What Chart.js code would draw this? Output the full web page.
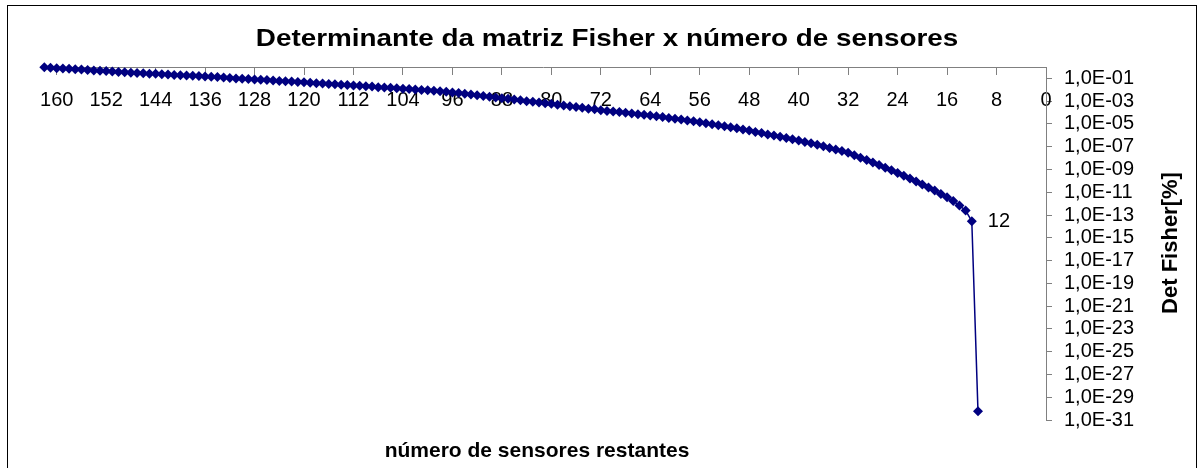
<!DOCTYPE html>
<html lang="pt">
<head>
<meta charset="utf-8">
<title>Determinante da matriz Fisher x número de sensores</title>
<script src="https://cdn.jsdelivr.net/npm/chart.js@4"></script>
<style>
  html, body { margin: 0; padding: 0; background: #fff; }
  canvas { display: block; }
</style>
</head>
<body>
<canvas id="fisherChart" width="1204" height="468"></canvas>
<script>
// Determinante da matriz Fisher para cada número de sensores restantes (162 -> 11)
const detFisher = [
  9.3e-1, 8.7e-1, 7.9e-1, 7.4e-1, 6.9e-1, 6.3e-1, 5.9e-1, 5.5e-1, 5.0e-1, 4.7e-1, 4.4e-1, 4.0e-1, 3.7e-1, 3.5e-1, 3.2e-1,
  3.0e-1, 2.8e-1, 2.6e-1, 2.5e-1, 2.3e-1, 2.2e-1, 2.0e-1, 1.9e-1, 1.8e-1, 1.7e-1, 1.6e-1,
  1.5e-1, 1.4e-1, 1.3e-1, 1.2e-1, 1.1e-1, 1.0e-1, 9.5e-2, 8.7e-2, 8.1e-2, 7.6e-2, 7.1e-2, 6.6e-2, 6.0e-2, 5.6e-2, 5.2e-2, 4.9e-2,
  4.5e-2, 4.2e-2, 3.8e-2, 3.5e-2, 3.2e-2, 3.0e-2,
  2.8e-2, 2.6e-2, 2.4e-2, 2.2e-2, 2.0e-2, 1.9e-2, 1.7e-2, 1.6e-2, 1.5e-2, 1.35e-2,
  1.2e-2, 1.15e-2, 1.05e-2, 9.5e-3, 8.9e-3, 8.1e-3, 7.4e-3, 6.8e-3,
  5.9e-3, 5.1e-3, 4.4e-3, 3.8e-3, 3.3e-3, 2.8e-3, 2.5e-3, 2.1e-3, 1.8e-3, 1.6e-3, 1.4e-3, 1.2e-3, 1.0e-3, 8.9e-4, 7.8e-4, 6.6e-4,
  5.8e-4, 4.9e-4, 4.2e-4, 3.5e-4, 3.0e-4, 2.6e-4, 2.2e-4, 1.9e-4,
  1.6e-4, 1.4e-4, 1.26e-4, 1.1e-4, 9.5e-5, 8.3e-5, 7.2e-5, 6.3e-5, 5.5e-5,
  4.7e-5, 4.0e-5, 3.3e-5, 2.8e-5, 2.4e-5, 2.0e-5, 1.7e-5, 1.4e-5,
  1.15e-5, 9.3e-6, 7.6e-6, 6.2e-6, 5.0e-6, 4.1e-6, 3.3e-6, 2.6e-6,
  2.0e-6, 1.6e-6, 1.2e-6, 9.5e-7, 7.4e-7, 5.8e-7, 4.5e-7, 3.5e-7,
  2.6e-7, 2.0e-7, 1.5e-7, 1.1e-7, 7.9e-8, 5.8e-8, 4.1e-8, 2.9e-8,
  1.8e-8, 1.1e-8, 6.8e-9, 4.1e-9, 2.5e-9,
  1.4e-9, 8.5e-10, 4.9e-10, 2.8e-10, 1.6e-10, 8.7e-11,
  4.8e-11, 2.6e-11, 1.4e-11, 7.2e-12, 3.6e-12, 1.7e-12, 6.9e-13, 2.5e-13, 2.8e-14, 5.8e-31
];
// número de sensores de cada ponto: 162, 161, ..., 11
const sensores = detFisher.map((_, i) => 162 - i);

const xTicks = [160, 152, 144, 136, 128, 120, 112, 104, 96, 88, 80, 72, 64, 56, 48, 40, 32, 24, 16, 8, 0];
const yTicks = [1e-1, 1e-3, 1e-5, 1e-7, 1e-9, 1e-11, 1e-13, 1e-15, 1e-17, 1e-19, 1e-21, 1e-23, 1e-25, 1e-27, 1e-29, 1e-31];
const sensorRotulado = 12;

const titulo = 'Determinante da matriz Fisher x número de sensores';
const tituloX = 'número de sensores restantes';
const tituloY = 'Det Fisher[%]';

const fonte = '"Liberation Sans", Arial, Helvetica, sans-serif';
const corSerie = '#000080';
const corEixo = '#808080';

// moldura, títulos e rótulo do último ponto antes da queda
const textos = {
  id: 'textos',
  beforeDraw(chart) {
    const ctx = chart.ctx;
    ctx.save();
    ctx.strokeStyle = '#000';
    ctx.lineWidth = 1;
    ctx.strokeRect(7.5, 5.5, 1189, 480);
    ctx.restore();
  },
  afterDraw(chart) {
    const ctx = chart.ctx;
    ctx.save();
    ctx.fillStyle = '#000';

    // título um pouco mais largo que a fonte normal
    ctx.save();
    ctx.font = 'bold 24px ' + fonte;
    ctx.textAlign = 'center';
    ctx.textBaseline = 'alphabetic';
    ctx.translate(607, 46);
    ctx.scale(1.16, 1);
    ctx.fillText(titulo, 0, 0);
    ctx.restore();

    ctx.font = 'bold 21px ' + fonte;
    ctx.textAlign = 'center';
    ctx.textBaseline = 'alphabetic';
    ctx.fillText(tituloX, 537, 457);

    ctx.save();
    ctx.font = 'bold 22px ' + fonte;
    ctx.translate(1171, 243);
    ctx.rotate(-Math.PI / 2);
    ctx.textBaseline = 'middle';
    ctx.fillText(tituloY, 0, 0);
    ctx.restore();

    const idx = sensores.indexOf(sensorRotulado);
    const pt = chart.getDatasetMeta(0).data[idx];
    ctx.font = '20px ' + fonte;
    ctx.textAlign = 'left';
    ctx.textBaseline = 'middle';
    ctx.fillText(String(sensores[idx]), pt.x + 16, pt.y);
    ctx.restore();
  }
};

const formatoExp = v => {
  const e = Math.round(Math.log10(v));
  return '1,0E' + (e < 0 ? '-' : '+') + String(Math.abs(e)).padStart(2, '0');
};

const ctx = document.getElementById('fisherChart').getContext('2d');
new Chart(ctx, {
  type: 'line',
  data: {
    datasets: [{
      data: sensores.map((s, i) => ({ x: s, y: detFisher[i] })),
      borderColor: corSerie,
      backgroundColor: corSerie,
      borderWidth: 1.5,
      pointStyle: 'rectRot',
      pointRadius: 5,
      pointBorderWidth: 0,
      pointBackgroundColor: corSerie,
      tension: 0,
      clip: false
    }]
  },
  options: {
    responsive: false,
    animation: false,
    layout: { padding: { left: 40, right: 58, top: 67, bottom: 48 } },
    plugins: {
      legend: { display: false },
      tooltip: { enabled: false },
      title: { display: false }
    },
    scales: {
      x: {
        type: 'linear',
        reverse: true,
        min: 0,
        max: 162.7,
        position: { y: 1 },
        afterBuildTicks: s => { s.ticks = xTicks.map(v => ({ value: v })); },
        ticks: {
          autoSkip: false,
          maxRotation: 0,
          padding: 14,
          color: '#000',
          font: { family: fonte, size: 20 }
        },
        grid: { drawOnChartArea: false, tickLength: 7, color: corEixo },
        border: { color: corEixo }
      },
      y: {
        type: 'logarithmic',
        position: 'right',
        min: 1e-31,
        max: 1,
        afterBuildTicks: s => { s.ticks = yTicks.map(v => ({ value: v })); },
        afterFit: s => { s.width = 100; },
        ticks: {
          autoSkip: false,
          padding: 12,
          color: '#000',
          font: { family: fonte, size: 20 },
          callback: formatoExp
        },
        grid: { drawOnChartArea: false, tickLength: 6, color: corEixo },
        border: { color: corEixo }
      }
    }
  },
  plugins: [textos]
});
</script>
</body>
</html>
